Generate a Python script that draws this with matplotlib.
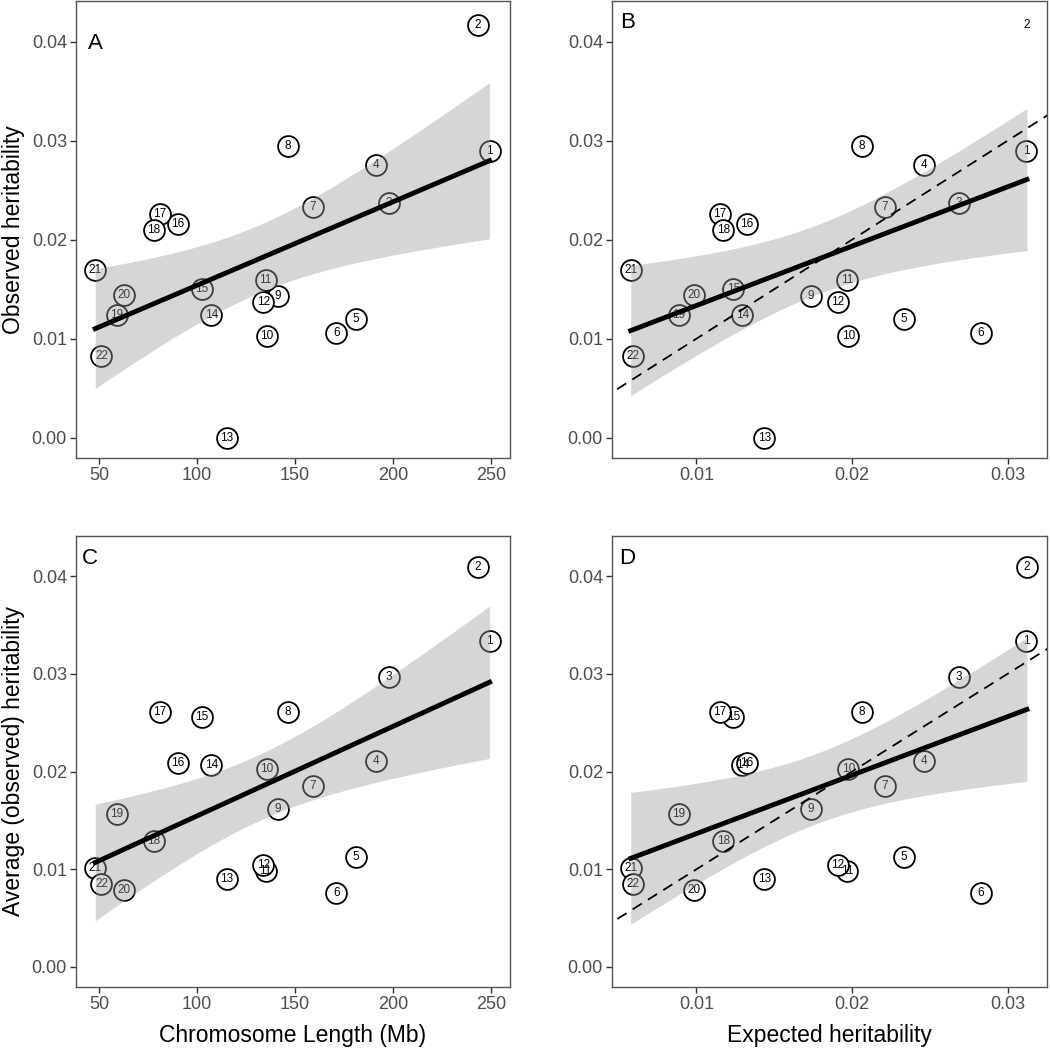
import numpy as np
import matplotlib
matplotlib.use('Agg')
import matplotlib.pyplot as plt

plt.rcParams['font.family'] = ['Liberation Sans', 'DejaVu Sans']

chroms = [str(i) for i in range(1, 23)]
length_mb = [249.3, 243.2, 198.0, 191.2, 180.9, 171.1, 159.1, 146.4, 141.2, 135.5, 135.0,
             133.9, 115.2, 107.3, 102.5, 90.4, 81.2, 78.1, 59.1, 63.0, 48.1, 51.3]
expected_h2 = [0.03118, 0.03124, 0.02685, 0.02464, 0.02335, 0.02828, 0.02212, 0.02062, 0.01736,
               0.01976, 0.01968, 0.01908, 0.01436, 0.01294, 0.01236, 0.01324, 0.0115, 0.01172,
               0.00888, 0.00983, 0.00577, 0.00592]
observed_h2 = [0.02892, 0.04165, 0.02374, 0.02758, 0.01202, 0.01061, 0.0233, 0.02943, 0.01434,
               0.01027, 0.01589, 0.0137, 0.0, 0.01242, 0.01502, 0.02162, 0.02263, 0.02094,
               0.01236, 0.01438, 0.0169, 0.00825]
average_h2 = [0.03332, 0.04095, 0.02968, 0.0211, 0.01123, 0.00752, 0.01855, 0.02604, 0.0162,
              0.02025, 0.00987, 0.01045, 0.00905, 0.02063, 0.02553, 0.02083, 0.02604, 0.01293,
              0.01569, 0.00786, 0.01011, 0.00851]

len_ticks = [50, 100, 150, 200, 250]
exp_ticks = [0.01, 0.02, 0.03]
h2_ticks = [0.00, 0.01, 0.02, 0.03, 0.04]

T975 = 2.086  # t quantile, 20 df


def lm_band(x, y):
    x = np.asarray(x)
    y = np.asarray(y)
    n = len(x)
    b, a = np.polyfit(x, y, 1)
    resid = y - (a + b * x)
    s = np.sqrt(np.sum(resid ** 2) / (n - 2))
    xs = np.linspace(x.min(), x.max(), 100)
    se = s * np.sqrt(1 / n + (xs - x.mean()) ** 2 / np.sum((x - x.mean()) ** 2))
    fit = a + b * xs
    return xs, fit, fit - T975 * se, fit + T975 * se


def panel(ax, x, y, letter, letter_pos, xlim, xticks, xfmt, identity=False, text_only=()):
    for i, (xi, yi) in enumerate(zip(x, y)):
        if chroms[i] in text_only:
            ax.text(xi, yi, chroms[i], ha='center', va='center', fontsize=8.5, zorder=2)
            continue
        ax.plot(xi, yi, 'o', ms=15, mfc='white', mec='black', mew=1.3, zorder=1)
        ax.text(xi, yi, chroms[i], ha='center', va='center', fontsize=8.5, zorder=2)
    xs, fit, lo, hi = lm_band(x, y)
    ax.fill_between(xs, lo, hi, color='#999999', alpha=0.4, lw=0, zorder=3)
    if identity:
        ax.plot([0, 0.05], [0, 0.05], ls=(0, (6, 4)), color='black', lw=1.3, zorder=4)
    ax.plot(xs, fit, color='black', lw=3.5, zorder=5)
    ax.set_xlim(xlim)
    ax.set_ylim(-0.00205, 0.0441)
    ax.set_xticks(xticks)
    ax.set_xticklabels([xfmt.format(t) for t in xticks])
    ax.set_yticks(h2_ticks)
    ax.set_yticklabels(['{:.2f}'.format(t) for t in h2_ticks])
    ax.tick_params(direction='out', length=4.5, width=1, color='#333333',
                   labelsize=13, labelcolor='#4D4D4D', pad=2)
    for sp in ax.spines.values():
        sp.set_color('#555555')
        sp.set_linewidth(1)
    ax.text(letter_pos[0], letter_pos[1], letter, transform=ax.transAxes,
            ha='center', va='center', fontsize=16)


fig = plt.figure(figsize=(10.5, 10.49), dpi=100)
W, H = 1050, 1049


def add_ax(left, top, right, bottom):
    return fig.add_axes([left / W, 1 - bottom / H, (right - left) / W, (bottom - top) / H])


axA = add_ax(76, 1, 510, 458)
axB = add_ax(612, 1, 1047, 458)
axC = add_ax(76, 536, 510, 987)
axD = add_ax(612, 536, 1047, 987)

panel(axA, length_mb, observed_h2, 'A', (0.044, 0.908), (38.3, 259.7), len_ticks, '{:d}')
panel(axB, expected_h2, observed_h2, 'B', (0.036, 0.952), (0.00457, 0.03253), exp_ticks,
      '{:.2f}', identity=True, text_only=('2',))
panel(axC, length_mb, average_h2, 'C', (0.032, 0.951), (38.3, 259.7), len_ticks, '{:d}')
panel(axD, expected_h2, average_h2, 'D', (0.034, 0.951), (0.00457, 0.03253), exp_ticks,
      '{:.2f}', identity=True)

axA.set_ylabel('Observed heritability', fontsize=16.5)
axC.set_ylabel('Average (observed) heritability', fontsize=16.5)
axC.set_xlabel('Chromosome Length (Mb)', fontsize=16.5)
axD.set_xlabel('Expected heritability', fontsize=16.5)
for ax in (axA, axC):
    ax.yaxis.set_label_coords(-0.117, 0.5)
for ax in (axC, axD):
    ax.xaxis.set_label_coords(0.5, -0.082)

fig.savefig('out.png', dpi=100)
